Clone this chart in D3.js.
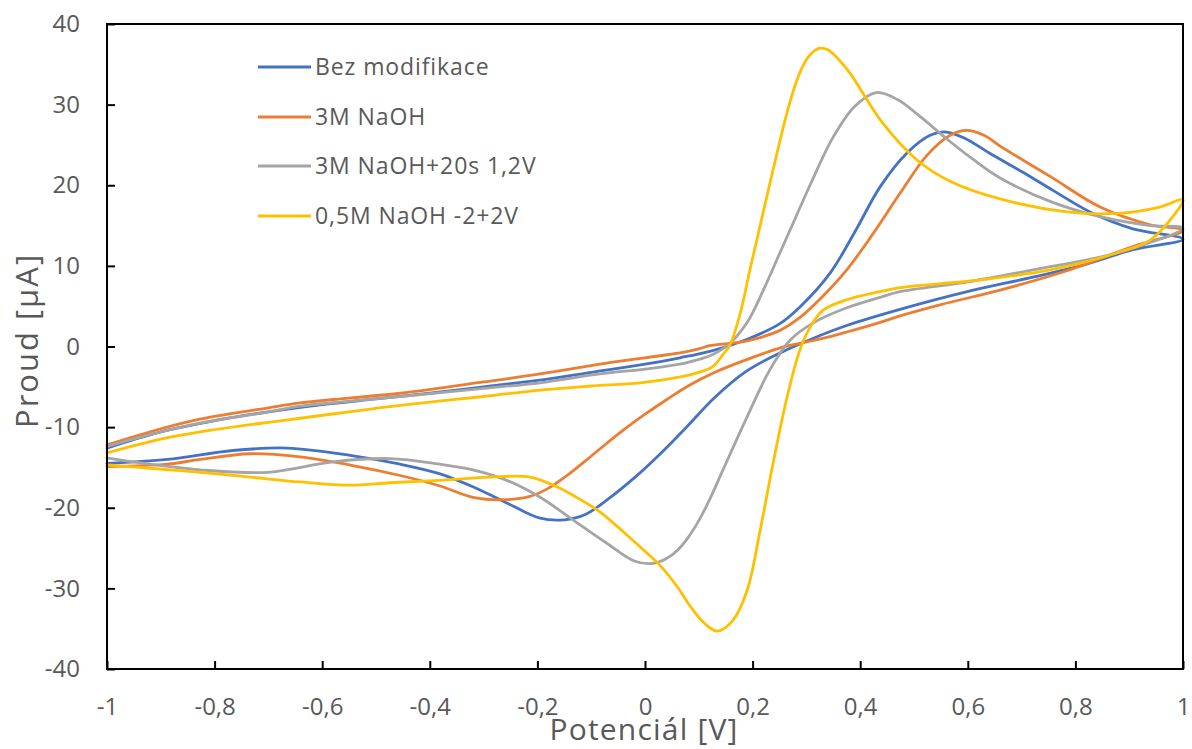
<!DOCTYPE html>
<html>
<head>
<meta charset="utf-8">
<script src="https://cdn.jsdelivr.net/npm/d3@7"></script>
<style>
  html, body { margin: 0; padding: 0; background: #fff; }
  svg { display: block; }
  text { font-family: "Open Sans", "Noto Sans", sans-serif; fill: #595959; }
</style>
</head>
<body>
<svg id="chart" width="1192" height="749"></svg>
<script>
// ---- data (potential [V], current [µA]) ----
const seriesNames = ["Bez modifikace", "3M NaOH", "3M NaOH+20s 1,2V", "0,5M NaOH -2+2V"];
const seriesColors = ["#4472C4", "#ED7D31", "#A5A5A5", "#FFC000"];

const bezModifikace = [
  [-1,-12.6],[-0.9,-10.6],[-0.8,-9.2],[-0.7,-8.1],[-0.6,-7.2],[-0.5,-6.5],[-0.4,-5.8],[-0.3,-5.0],[-0.2,-4.2],[-0.1,-3.2],[0,-2.2],[0.065,-1.4],[0.126,-0.5],[0.19,0.9],[0.25,2.8],[0.288,4.9],[0.344,9.1],[0.39,14.2],[0.437,19.8],[0.487,24.0],[0.53,26.2],[0.56,26.6],[0.595,25.8],[0.64,24.0],[0.7,21.7],[0.76,19.3],[0.83,16.6],[0.907,14.6],[1,13.3],
  [0.907,12.0],[0.814,10.1],[0.721,8.6],[0.599,6.8],[0.474,4.6],[0.375,2.6],[0.312,1.0],[0.251,-0.8],[0.19,-3.0],[0.13,-6.3],[0.08,-9.8],[0.03,-13.2],[-0.02,-16.3],[-0.07,-19.0],[-0.11,-20.8],[-0.15,-21.5],[-0.195,-21.3],[-0.257,-19.4],[-0.32,-17.4],[-0.381,-15.8],[-0.455,-14.6],[-0.548,-13.5],[-0.665,-12.6],[-0.766,-12.9],[-0.888,-14.0],[-1,-14.5]
];
const naoh3M = [
  [-1,-12.2],[-0.9,-10.2],[-0.827,-9.0],[-0.7,-7.6],[-0.641,-7.0],[-0.55,-6.4],[-0.455,-5.8],[-0.3,-4.4],[-0.195,-3.4],[-0.084,-2.2],[0,-1.4],[0.065,-0.8],[0.1,-0.3],[0.12,0.1],[0.19,0.7],[0.251,2.0],[0.288,3.6],[0.33,6.2],[0.375,9.5],[0.424,14.0],[0.474,19.0],[0.524,23.7],[0.567,26.2],[0.598,26.8],[0.63,26.2],[0.666,24.6],[0.753,21.1],[0.846,17.3],[0.939,15.1],[1,14.4],
  [0.907,12.4],[0.784,9.4],[0.66,7.0],[0.55,5.2],[0.474,3.8],[0.437,3.0],[0.375,1.8],[0.33,1.0],[0.288,0.4],[0.25,-0.2],[0.19,-1.6],[0.13,-3.2],[0.08,-4.9],[0.04,-6.6],[0,-8.4],[-0.041,-10.4],[-0.071,-12.0],[-0.102,-13.7],[-0.145,-16.0],[-0.18,-17.6],[-0.214,-18.6],[-0.26,-19.0],[-0.32,-18.7],[-0.381,-17.3],[-0.455,-16.0],[-0.548,-14.7],[-0.641,-13.7],[-0.734,-13.3],[-0.827,-14.0],[-0.888,-14.6],[-1,-14.9]
];
const naoh3M20s = [
  [-1,-12.4],[-0.9,-10.6],[-0.827,-9.5],[-0.7,-8.1],[-0.641,-7.4],[-0.55,-6.8],[-0.455,-6.2],[-0.3,-5.2],[-0.195,-4.5],[-0.084,-3.4],[0,-2.8],[0.065,-2.2],[0.1,-1.6],[0.126,-1.0],[0.158,0.4],[0.19,3.0],[0.22,7.0],[0.25,11.5],[0.28,16.0],[0.31,20.5],[0.35,26.0],[0.39,29.8],[0.43,31.5],[0.47,30.6],[0.51,28.6],[0.56,25.8],[0.61,23.2],[0.66,20.9],[0.753,18.0],[0.846,16.1],[0.939,15.0],[1,14.7],
  [0.877,11.6],[0.721,9.5],[0.598,8.0],[0.474,6.8],[0.437,6.1],[0.375,4.8],[0.312,2.9],[0.27,0.8],[0.232,-2.9],[0.19,-8.7],[0.145,-15.3],[0.12,-19.0],[0.1,-21.6],[0.08,-23.7],[0.06,-25.3],[0.04,-26.3],[0.015,-26.9],[-0.02,-26.6],[-0.071,-24.4],[-0.134,-21.5],[-0.195,-18.7],[-0.257,-16.6],[-0.32,-15.3],[-0.381,-14.6],[-0.474,-13.9],[-0.58,-14.3],[-0.7,-15.6],[-0.827,-15.3],[-0.952,-14.3],[-1,-13.8]
];
const naoh05M = [
  [-1,-13.2],[-0.9,-11.5],[-0.827,-10.6],[-0.7,-9.4],[-0.641,-8.9],[-0.55,-8.1],[-0.455,-7.3],[-0.3,-6.2],[-0.195,-5.4],[-0.1,-4.9],[-0.009,-4.5],[0.071,-3.7],[0.1,-3.2],[0.126,-2.5],[0.145,-1.0],[0.158,0.2],[0.177,4.1],[0.195,9.5],[0.214,15.0],[0.238,21.9],[0.264,29.0],[0.28,32.6],[0.295,35.0],[0.31,36.4],[0.325,37.0],[0.34,36.8],[0.36,35.6],[0.381,33.9],[0.442,27.7],[0.506,23.1],[0.567,20.5],[0.66,18.3],[0.784,16.7],[0.877,16.5],[0.957,17.3],[1,18.2],
  [0.981,16.1],[0.939,13.2],[0.877,11.6],[0.753,9.5],[0.628,8.3],[0.474,7.3],[0.437,6.8],[0.375,5.8],[0.331,4.5],[0.307,2.4],[0.288,-0.4],[0.264,-6.3],[0.238,-14.5],[0.214,-22.8],[0.19,-30.2],[0.164,-33.9],[0.134,-35.3],[0.11,-34.3],[0.085,-32.3],[0.06,-29.8],[0.03,-27.3],[0,-25.4],[-0.04,-23.0],[-0.084,-20.5],[-0.13,-18.6],[-0.164,-17.4],[-0.214,-16.2],[-0.288,-16.2],[-0.381,-16.6],[-0.474,-16.9],[-0.548,-17.2],[-0.641,-16.8],[-0.734,-16.2],[-0.827,-15.6],[-0.92,-15.1],[-1,-14.7]
];
const allSeries = [bezModifikace, naoh3M, naoh3M20s, naoh05M];

const xTicks = [-1, -0.8, -0.6, -0.4, -0.2, 0, 0.2, 0.4, 0.6, 0.8, 1];
const yTicks = [-40, -30, -20, -10, 0, 10, 20, 30, 40];
const xTitle = "Potenciál [V]";
const yTitle = "Proud [\u03BCA]";

// ---- layout ----
const svg = d3.select("#chart");
const L = 107, R = 1183, T = 24, B = 669;
const x = d3.scaleLinear().domain([-1, 1]).range([L, R]);
const y = d3.scaleLinear().domain([-40, 40]).range([B, T]);
const fmt = d => String(d).replace(".", ",");

// series
const line = d3.line().x(d => x(d[0])).y(d => y(d[1])).curve(d3.curveCatmullRom.alpha(0.5));
const plot = svg.append("g");
allSeries.forEach((s, i) => {
  plot.append("path").datum(s)
    .attr("d", line)
    .attr("fill", "none")
    .attr("stroke", seriesColors[i])
    .attr("stroke-width", 2.8)
    .attr("stroke-linejoin", "round")
    .attr("stroke-linecap", "round");
});

// frame
svg.append("rect").attr("x", L).attr("y", T).attr("width", R - L).attr("height", B - T)
  .attr("fill", "none").attr("stroke", "#000").attr("stroke-width", 2);

// axes
const xAxis = d3.axisBottom(x).tickValues(xTicks).tickFormat(fmt).tickSize(-8).tickPadding(29);
const gx = svg.append("g").attr("transform", `translate(0,${B})`).call(xAxis);
const yAxis = d3.axisLeft(y).tickValues(yTicks).tickFormat(fmt).tickSize(-8).tickPadding(27);
const gy = svg.append("g").attr("transform", `translate(${L},0)`).call(yAxis);
[gx, gy].forEach(g => {
  g.select(".domain").remove();
  g.selectAll(".tick line").attr("stroke", "#000").attr("stroke-width", 2);
  g.selectAll(".tick text").style("font-size", "24px").attr("fill", "#595959");
});

// axis titles
svg.append("text").attr("x", (L + R) / 2 - 1).attr("y", 740)
  .attr("text-anchor", "middle").style("font-size", "30px").style("letter-spacing", "1.2px").text(xTitle);
svg.append("text").attr("transform", `translate(38,${(T + B) / 2 - 6}) rotate(-90)`)
  .attr("text-anchor", "middle").style("font-size", "31px").style("letter-spacing", "2px").text(yTitle);

// legend
const legY = [67, 117, 166, 216];
seriesNames.forEach((n, i) => {
  svg.append("line").attr("x1", 258).attr("x2", 311).attr("y1", legY[i]).attr("y2", legY[i])
    .attr("stroke", seriesColors[i]).attr("stroke-width", 2.8);
  svg.append("text").attr("x", 315).attr("y", legY[i]).attr("dy", "0.35em")
    .style("font-size", "23px").style("letter-spacing", "0.9px").text(n);
});
</script>
</body>
</html>
